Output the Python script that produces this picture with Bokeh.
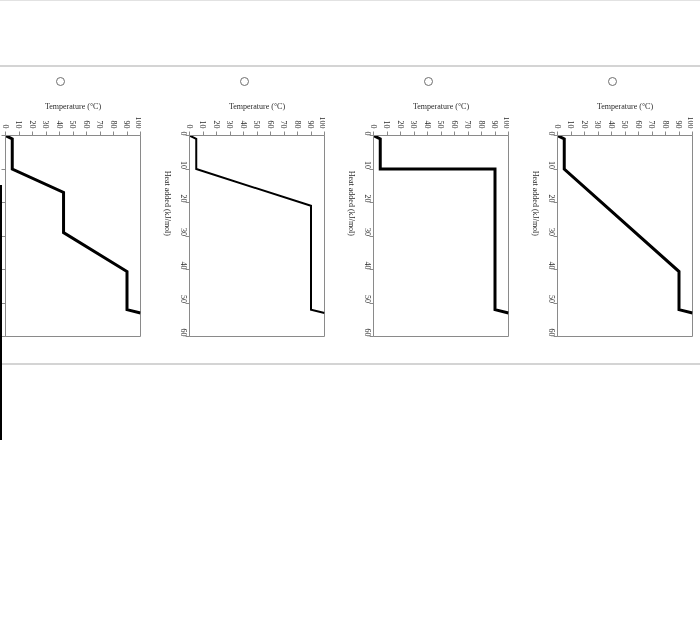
import math
from bokeh.plotting import figure
from bokeh.models import Range1d, Div
from bokeh.layouts import row, column
from bokeh.embed import file_html
from bokeh.resources import INLINE

# ---- data (heat added kJ/mol, temperature degC) ----
heat_1 = [0, 1, 10, 17, 29, 40.6, 52, 53]
temp_1 = [0, 5, 5, 43, 43, 90, 90, 100]

heat_2 = [0, 1, 10, 21, 52, 53]
temp_2 = [0, 5, 5, 90, 90, 100]

heat_3 = [0, 1, 10, 10, 52, 53]
temp_3 = [0, 5, 5, 90, 90, 100]

heat_4 = [0, 1, 10, 40.6, 52, 53]
temp_4 = [0, 5, 5, 90, 90, 100]

line_widths = [3, 2, 3, 3]

temp_ticks = [0, 10, 20, 30, 40, 50, 60, 70, 80, 90, 100]
heat_ticks = [0, 10, 20, 30, 40, 50, 60]

x_title = "Temperature (°C)"
y_title = "Heat added (kJ/mol)"

FONT = "Liberation Serif"
GRAY = "#8a8a8a"
TXT = "#2b2b2b"

series = [(heat_1, temp_1), (heat_2, temp_2), (heat_3, temp_3), (heat_4, temp_4)]

figs = []
for i, (h, t) in enumerate(series):
    p = figure(width=184, height=274,
               x_range=Range1d(0, 100), y_range=Range1d(60, 0),
               x_axis_location="above", y_axis_location="left",
               toolbar_location=None, output_backend="svg",
               min_border_top=45, min_border_bottom=28,
               min_border_left=48, min_border_right=1)
    p.grid.visible = False
    p.outline_line_color = GRAY
    p.outline_line_width = 1
    p.background_fill_color = "white"
    p.border_fill_color = "white"
    p.line(t, h, line_color="black", line_width=line_widths[i], line_join="miter")

    xa = p.xaxis[0]
    xa.ticker = temp_ticks
    xa.axis_label = x_title
    xa.axis_label_text_font = FONT
    xa.axis_label_text_font_style = "normal"
    xa.axis_label_text_font_size = "8px"
    xa.axis_label_text_color = TXT
    xa.axis_label_standoff = 3
    xa.major_label_orientation = -math.pi / 2
    xa.major_label_text_font = FONT
    xa.major_label_text_font_size = "8px"
    xa.major_label_text_color = TXT
    xa.major_label_standoff = 3
    xa.major_tick_out = 4
    xa.major_tick_in = 0
    xa.minor_tick_out = 0
    xa.minor_tick_in = 0
    xa.axis_line_color = GRAY
    xa.major_tick_line_color = GRAY

    ya = p.yaxis[0]
    ya.ticker = heat_ticks
    if i > 0:
        ya.axis_label = y_title
    else:
        ya.major_label_overrides = {v: "" for v in heat_ticks}
    ya.axis_label_text_font = FONT
    ya.axis_label_text_font_style = "normal"
    ya.axis_label_text_font_size = "8px"
    ya.axis_label_text_color = TXT
    ya.axis_label_standoff = 7
    if hasattr(ya, "axis_label_orientation"):
        ya.axis_label_orientation = -math.pi / 2
    ya.major_label_orientation = -math.pi / 2
    ya.major_label_text_font = FONT
    ya.major_label_text_font_size = "8px"
    ya.major_label_text_color = TXT
    ya.major_label_standoff = 2
    ya.major_tick_out = 4
    ya.major_tick_in = 0
    ya.minor_tick_out = 0
    ya.minor_tick_in = 0
    ya.axis_line_color = GRAY
    ya.major_tick_line_color = GRAY
    figs.append(p)

def fixed_box(left, top, w, h, extra):
    return ('<div style="position:fixed;left:%dpx;top:%dpx;width:%dpx;height:%dpx;%s"></div>'
            % (left, top, w, h, extra))

parts = [
    fixed_box(0, 0, 700, 1, "background:#e2e2e2;"),
    fixed_box(0, 65, 700, 2, "background:#d4d4d4;"),
    fixed_box(0, 363, 700, 2, "background:#d4d4d4;"),
    fixed_box(0, 185, 2, 255, "background:#000;"),
]
for k in range(4):
    parts.append(fixed_box(56 + 184 * k, 77, 9, 9,
                           "border:1px solid #6e6e6e;border-radius:50%;background:white;"))

overlay = Div(width=10, height=10, text="".join(parts))
overlay.styles = {"position": "fixed", "left": "0px", "top": "0px", "z-index": "10"}

charts = row(*figs, spacing=0)
charts.styles = {"position": "fixed", "left": "-43px", "top": "90px"}

root = column(charts, overlay, spacing=0)

open("out.html", "w").write(file_html(root, INLINE))
